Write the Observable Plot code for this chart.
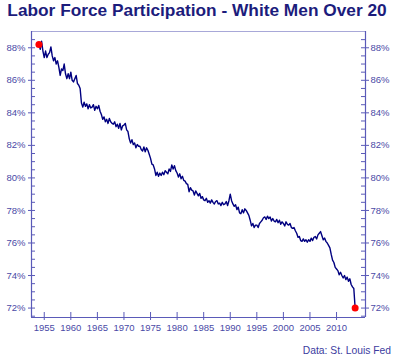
<!DOCTYPE html>
<html><head><meta charset="utf-8">
<script src="https://cdn.jsdelivr.net/npm/d3@7"></script>
<script src="https://cdn.jsdelivr.net/npm/@observablehq/plot@0.6"></script>
<style>
body{margin:0;background:#fff;}
#wrap{position:relative;width:400px;height:364px;font-family:"Liberation Sans",Arial,sans-serif;}
#chart{position:absolute;left:0;top:0;}
#title{position:absolute;left:0;top:0px;width:394px;text-align:center;font-weight:bold;font-size:17.3px;color:#1c1c7c;white-space:nowrap;}
#caption{position:absolute;right:9px;top:345px;font-size:10.3px;color:#3c3ca0;}
</style></head><body>
<div id="wrap">
<div id="chart"></div>
<div id="title">Labor Force Participation - White Men Over 20</div>
<div id="caption">Data: St. Louis Fed</div>
</div>
<script>
// Quarterly readings (%), starting Q1 1954
const startYear = 1954;
const stepsPerYear = 4;
const participation = [
 88.2, 87.9, 88.4, 87.8,   // 1954
 87.4, 87.8, 87.4, 87.6,   // 1955
 87.7, 88.05, 87.5, 87.2,  // 1956
 87.4, 87.0, 87.2, 86.8,   // 1957
 86.3, 86.7, 86.6, 87.0,   // 1958
 86.4, 86.1, 86.4, 86.1,   // 1959
 86.5, 86.0, 85.9, 86.1,   // 1960
 86.3, 85.8, 85.7, 85.5,   // 1961
 84.6, 84.35, 84.65, 84.4, // 1962
 84.55, 84.25, 84.5, 84.3, // 1963
 84.35, 84.5, 84.15, 84.4, // 1964
 84.25, 84.45, 84.1, 83.9, // 1965
 83.6, 83.75, 83.45, 83.6, // 1966
 83.35, 83.65, 83.45, 83.35, // 1967
 83.3, 83.45, 83.15, 83.3, // 1968
 83.05, 83.35, 82.95, 83.2, // 1969
 83.25, 83.35, 82.95, 82.85, // 1970
 82.4, 82.15, 82.35, 82.05, // 1971
 82.15, 81.85, 82.05, 81.95, // 1972
 81.95, 81.75, 81.65, 81.9, // 1973
 81.6, 81.85, 81.7, 81.45, // 1974
 81.2, 80.85, 80.8, 80.55, // 1975
 80.15, 80.35, 80.1, 80.3, // 1976
 80.15, 80.35, 80.2, 80.45, // 1977
 80.35, 80.25, 80.55, 80.4, // 1978
 80.8, 80.55, 80.75, 80.45, // 1979
 80.3, 80.05, 80.25, 79.95, // 1980
 80.1, 79.85, 79.8, 79.65, // 1981
 79.6, 79.15, 79.4, 79.25, // 1982
 79.2, 78.95, 79.2, 79.05, // 1983
 78.9, 79.05, 78.75, 78.85, // 1984
 78.65, 78.6, 78.75, 78.5, // 1985
 78.6, 78.45, 78.65, 78.5, // 1986
 78.4, 78.55, 78.6, 78.4,  // 1987
 78.45, 78.3, 78.5, 78.35, // 1988
 78.4, 78.55, 78.3, 78.6,  // 1989
 79.0, 78.6, 78.4, 78.25,  // 1990
 78.35, 78.05, 78.2, 77.85, // 1991
 77.8, 78.05, 77.85, 78.1, // 1992
 78.0, 77.85, 77.7, 77.4,  // 1993
 77.05, 77.2, 76.95, 77.1, // 1994
 77.1, 76.95, 77.2, 77.3,  // 1995
 77.4, 77.55, 77.6, 77.45, // 1996
 77.65, 77.5, 77.6, 77.35, // 1997
 77.5, 77.35, 77.3, 77.45, // 1998
 77.25, 77.4, 77.15, 77.3, // 1999
 77.2, 77.05, 77.3, 77.15, // 2000
 77.1, 77.2, 76.95, 76.9,  // 2001
 76.95, 76.75, 76.6, 76.35, // 2002
 76.4, 76.15, 76.1, 76.25, // 2003
 76.1, 76.2, 76.05, 76.2,  // 2004
 76.1, 76.3, 76.15, 76.35, // 2005
 76.4, 76.25, 76.5, 76.6,  // 2006
 76.7, 76.45, 76.2, 76.3,  // 2007
 76.1, 76.0, 75.85, 75.7,  // 2008
 75.3, 74.95, 74.8, 74.5,  // 2009
 74.4, 74.3, 74.05, 74.2,  // 2010
 74.0, 73.85, 74.0, 73.75, // 2011
 73.9, 73.65, 73.8, 73.45, // 2012
 73.3, 73.2, 72.0          // 2013
];
const yTicks = [72, 74, 76, 78, 80, 82, 84, 86, 88];
const yMinorTicks = [71.5,72,72.5,73,73.5,74,74.5,75,75.5,76,76.5,77,77.5,78,78.5,79,79.5,80,80.5,81,81.5,82,82.5,83,83.5,84,84.5,85,85.5,86,86.5,87,87.5,88,88.5];
const xTicks = [1955, 1960, 1965, 1970, 1975, 1980, 1985, 1990, 1995, 2000, 2005, 2010];
const xDomain = [1952.6, 2015.45];
const yDomain = [71.42, 89.0];

const data = participation.map((v, i) => ({year: startYear + i / stepsPerYear, value: v}));
const endpoints = [data[0], data[data.length - 1]];

const W = 400, H = 364, ml = 31, mr = 35, mt = 31, mb = 47;
const frameW = W - ml - mr, frameH = H - mt - mb;
const axisColor = "#5a5ab8";
const labelColor = "#4a4aa6";

const chart = Plot.plot({
  width: W, height: H,
  marginLeft: ml, marginRight: mr, marginTop: mt, marginBottom: mb,
  x: {domain: xDomain},
  y: {domain: yDomain},
  style: {fontFamily: "'Liberation Sans', Arial, sans-serif", fontSize: "9.5px", background: "transparent", overflow: "visible"},
  marks: [
    Plot.ruleY([yDomain[1]], {stroke: "#a8a8d8", strokeWidth: 1}),
    Plot.ruleX([xDomain[0]], {stroke: axisColor, strokeWidth: 1.2}),
    Plot.ruleX([xDomain[1]], {stroke: axisColor, strokeWidth: 1.2}),
    Plot.ruleY([yDomain[0]], {stroke: axisColor, strokeWidth: 1.2}),
    Plot.tickY(yMinorTicks, {y: d => d, stroke: axisColor, insetRight: frameW - 4}),
    Plot.tickY(yMinorTicks, {y: d => d, stroke: axisColor, insetLeft: frameW - 4}),
    Plot.tickX(xTicks, {x: d => d, stroke: axisColor, insetTop: frameH - 5}),
    Plot.axisY(yTicks, {anchor: "left", tickSize: 3, tickPadding: 3, tickFormat: d => d + "%", stroke: axisColor, fill: labelColor, label: null, fontSize: 9.5}),
    Plot.axisY(yTicks, {anchor: "right", tickSize: 3, tickPadding: 2, tickFormat: d => d + "%", stroke: axisColor, fill: labelColor, label: null, fontSize: 9.5}),
    Plot.axisX(xTicks, {anchor: "bottom", tickSize: 3, tickPadding: 4, tickFormat: d => String(d), stroke: axisColor, fill: labelColor, label: null, fontSize: 9.5}),
    Plot.line(data, {x: "year", y: "value", stroke: "#000080", strokeWidth: 1.4}),
    Plot.dot(endpoints, {x: "year", y: "value", fill: "#ff0000", r: 3.5})
  ]
});
document.getElementById("chart").appendChild(chart);
</script>
</body></html>
